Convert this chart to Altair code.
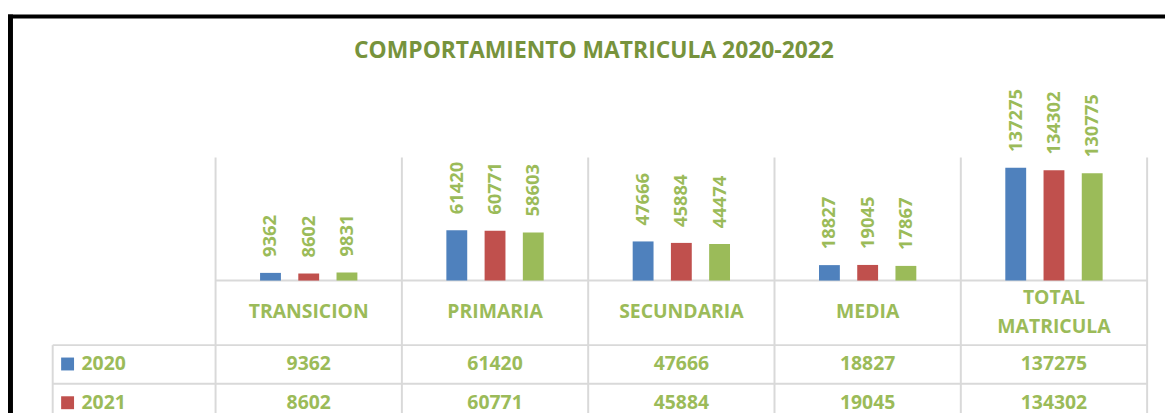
import altair as alt
import pandas as pd

# ---------------- data ----------------
categories = ["TRANSICION", "PRIMARIA", "SECUNDARIA", "MEDIA", "TOTAL MATRICULA"]
header_lines = [["TRANSICION"], ["PRIMARIA"], ["SECUNDARIA"], ["MEDIA"], ["TOTAL", "MATRICULA"]]
years = ["2020", "2021", "2022"]
values_2020 = [9362, 61420, 47666, 18827, 137275]
values_2021 = [8602, 60771, 45884, 19045, 134302]
values_2022 = [9831, 58603, 44474, 17867, 130775]
year_colors = ["#4F81BD", "#C0504D", "#9BBB59"]
title_text = "COMPORTAMIENTO MATRICULA 2020-2022"

series = {"2020": values_2020, "2021": values_2021, "2022": values_2022}
records = [
    {"cat": c, "year": y, "value": v}
    for y in years
    for c, v in zip(categories, series[y])
]
data = alt.Data(values=records)
header_records = [{"cat": c, "label": l, "n": len(l)} for c, l in zip(categories, header_lines)]
header_data = alt.Data(values=header_records)
cat_data = alt.Data(values=[{"cat": c} for c in categories])
one = alt.Data(values=[{"k": 0}])

# ---------------- styling ----------------
FONT = "Open Sans"
GREEN = "#9BBB59"
GRID = "#D9D9D9"
W = 938
H = 273
BAR_H = 124
HEADER_Y = 156
LINE_H = 29
row_y = {"2020": 208, "2021": 247, "2022": 285}
row_lines = [189, 228, 266]

xscale = alt.Scale(domain=categories, paddingInner=0, paddingOuter=0)
x_cat = alt.X("cat:N", sort=categories, scale=xscale, axis=None)
x_off = alt.XOffset("year:N", sort=years,
                    scale=alt.Scale(domain=years, paddingInner=0.127, paddingOuter=1))
y_val = alt.Y("value:Q", scale=alt.Scale(domain=[0, 150000], range=[BAR_H, 0]), axis=None)
color_enc = alt.Color("year:N", scale=alt.Scale(domain=years, range=year_colors), legend=None)

layers = []

# vertical grid lines (band boundaries)
layers.append(
    alt.Chart(cat_data).mark_rule(color=GRID, strokeWidth=2).encode(
        x=alt.X("cat:N", sort=categories, scale=xscale, axis=None, bandPosition=0),
        y=alt.value(0), y2=alt.value(H),
    )
)
layers.append(
    alt.Chart(cat_data).mark_rule(color=GRID, strokeWidth=2).encode(
        x=alt.X("cat:N", sort=categories, scale=xscale, axis=None, bandPosition=1),
        y=alt.value(0), y2=alt.value(H),
    ).transform_filter(alt.datum.cat == categories[-1])
)
# table horizontal lines
layers.append(
    alt.Chart(one).mark_rule(color=GRID, strokeWidth=2).encode(
        x=alt.value(0), x2=alt.value(W), y=alt.value(BAR_H)
    )
)
for ly in row_lines:
    layers.append(
        alt.Chart(one).mark_rule(color=GRID, strokeWidth=2).encode(
            x=alt.value(-164), x2=alt.value(W), y=alt.value(ly)
        )
    )
layers.append(
    alt.Chart(one).mark_rule(color=GRID, strokeWidth=2).encode(
        x=alt.value(-164), y=alt.value(row_lines[0]), y2=alt.value(H)
    )
)

# bars
layers.append(
    alt.Chart(data).mark_bar(size=21).encode(x=x_cat, xOffset=x_off, y=y_val, color=color_enc)
)
# value labels
layers.append(
    alt.Chart(data).mark_text(angle=270, align="left", baseline="middle", dx=16,
                              font=FONT, fontSize=18.5, fontWeight="bold", color=GREEN).encode(
        x=x_cat, xOffset=x_off, y=y_val, text=alt.Text("value:Q", format="d")
    )
)
# header row (single-line and two-line labels, vertically centred in the header cell)
for n in (1, 2):
    layers.append(
        alt.Chart(header_data).transform_filter(alt.datum.n == n).mark_text(
            align="center", baseline="middle", font=FONT, fontSize=19.5,
            fontWeight="bold", color=GREEN, lineHeight=LINE_H).encode(
            x=x_cat, y=alt.value(HEADER_Y - (n - 1) * LINE_H / 2), text="label:N"
        )
    )
# table rows
for yr in years:
    layers.append(
        alt.Chart(data).transform_filter(alt.datum.year == yr).mark_text(
            align="center", baseline="middle", font=FONT, fontSize=19.5,
            fontWeight="bold", color=GREEN).encode(
            x=x_cat, y=alt.value(row_y[yr]), text=alt.Text("value:Q", format="d")
        )
    )
    layers.append(
        alt.Chart(data).transform_filter(
            (alt.datum.year == yr) & (alt.datum.cat == categories[0])
        ).mark_point(shape="square", filled=True, size=169, opacity=1).encode(
            x=alt.value(-149), y=alt.value(row_y[yr]), color=color_enc
        )
    )
    layers.append(
        alt.Chart(data).transform_filter(
            (alt.datum.year == yr) & (alt.datum.cat == categories[0])
        ).mark_text(align="left", baseline="middle", font=FONT, fontSize=19.5,
                    fontWeight="bold", color=GREEN).encode(
            x=alt.value(-135), y=alt.value(row_y[yr]), text="year:N"
        )
    )

# chart frame (black border)
layers.append(
    alt.Chart(one).mark_rule(color="black", strokeWidth=4).encode(
        x=alt.value(-209), x2=alt.value(W + 40), y=alt.value(-142)
    )
)
layers.append(
    alt.Chart(one).mark_rule(color="black", strokeWidth=5).encode(
        x=alt.value(-206.5), y=alt.value(-144), y2=alt.value(H)
    )
)
# title
layers.append(
    alt.Chart(one).mark_text(align="center", baseline="middle", font=FONT, fontSize=23,
                             fontWeight="bold", color="#77933C").encode(
        x=alt.value(381), y=alt.value(-107), text=alt.value(title_text)
    )
)

chart = alt.layer(*layers).properties(
    width=W, height=H,
    autosize=alt.AutoSizeParams(type="none"),
    padding={"left": 209, "top": 149, "right": 18, "bottom": 0},
    background="white",
).configure_view(strokeWidth=0)

chart.save("out.html", embed_options={"renderer": "svg", "actions": False})
